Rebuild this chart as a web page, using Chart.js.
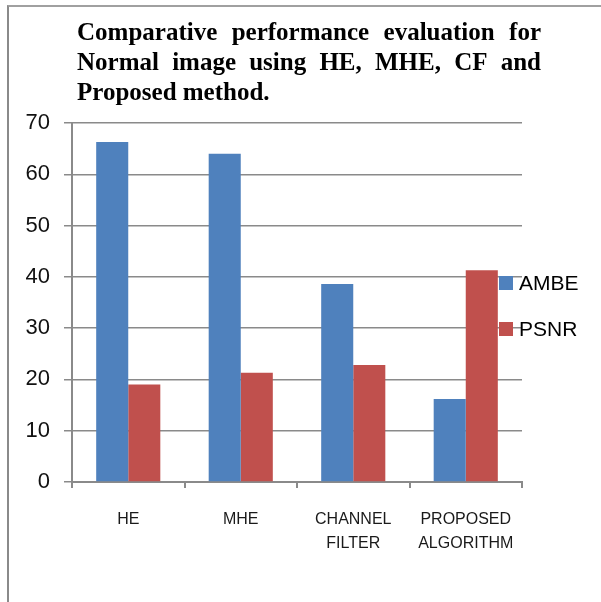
<!DOCTYPE html>
<html>
<head>
<meta charset="utf-8">
<script src="https://cdn.jsdelivr.net/npm/chart.js@4/dist/chart.umd.min.js"></script>
<style>
  html, body { margin: 0; padding: 0; background: #fff; }
  #wrap { position: relative; width: 601px; height: 602px; overflow: hidden; }
  #frame { position: absolute; left: 7px; top: 5px; width: 600px; height: 600px;
           border-left: 2px solid #8a8a8a; border-top: 2px solid #a0a0a0; box-sizing: border-box; }
  canvas { position: absolute; left: 0; top: 0; }
</style>
</head>
<body>
<div id="wrap">
  <div id="frame"></div>
  <canvas id="c" width="601" height="602"></canvas>
</div>
<script>
const titleLines = [
  "Comparative performance evaluation for",
  "Normal image using HE, MHE, CF and",
  "Proposed method."
];
const categories = [["HE"], ["MHE"], ["CHANNEL", "FILTER"], ["PROPOSED", "ALGORITHM"]];
const seriesNames = ["AMBE", "PSNR"];
const ambeValues = [66.3, 64.0, 38.6, 16.2];
const psnrValues = [19.0, 21.3, 22.8, 41.3];
const yTicks = [0, 10, 20, 30, 40, 50, 60, 70];
const colors = ["#4F81BD", "#C0504D"];

const titlePlugin = {
  id: 'justTitle',
  afterDraw(chart) {
    const ctx = chart.ctx;
    ctx.save();
    ctx.font = 'bold 25px "Liberation Serif", "Times New Roman", serif';
    ctx.fillStyle = '#000';
    ctx.textBaseline = 'alphabetic';
    const left = 77, right = 541;
    const baselines = [40, 70, 100];
    titleLines.forEach((line, i) => {
      const words = line.split(' ');
      if (i < titleLines.length - 1 && words.length > 1) {
        const total = words.reduce((s, w) => s + ctx.measureText(w).width, 0);
        const gap = (right - left - total) / (words.length - 1);
        let x = left;
        words.forEach(w => { ctx.fillText(w, x, baselines[i]); x += ctx.measureText(w).width + gap; });
      } else {
        ctx.fillText(line, left, baselines[i]);
      }
    });
    ctx.restore();
  }
};

const legendPlugin = {
  id: 'customLegend',
  afterDraw(chart) {
    const ctx = chart.ctx;
    ctx.save();
    ctx.font = '21px "Liberation Sans", Arial, sans-serif';
    ctx.textBaseline = 'middle';
    const ys = [283, 329];
    chart.data.datasets.forEach((ds, i) => {
      ctx.fillStyle = ds.backgroundColor;
      ctx.fillRect(499, ys[i] - 7, 14, 14);
      ctx.fillStyle = '#000';
      ctx.fillText(ds.label, 519, ys[i] + 1);
    });
    ctx.restore();
  }
};

new Chart(document.getElementById('c'), {
  type: 'bar',
  data: {
    labels: categories,
    datasets: [
      { label: seriesNames[0], data: ambeValues, backgroundColor: colors[0] },
      { label: seriesNames[1], data: psnrValues, backgroundColor: colors[1] }
    ]
  },
  options: {
    responsive: false,
    animation: false,
    devicePixelRatio: 1,
    layout: { padding: { top: 123, right: 79, bottom: 0, left: 0 } },
    plugins: { legend: { display: false }, title: { display: false }, tooltip: { enabled: false } },
    datasets: { bar: { categoryPercentage: 0.57, barPercentage: 1.0 } },
    scales: {
      x: {
        afterFit(s) { s.height = 120; },
        grid: { display: true, drawOnChartArea: false, drawTicks: true, tickLength: 6, color: '#8a8a8a', lineWidth: 2, offset: true },
        border: { display: true, color: '#8a8a8a', width: 2 },
        ticks: { color: '#1a1a1a', font: { family: '"Liberation Sans", Arial, sans-serif', size: 16, lineHeight: 1.5 }, padding: 20, maxRotation: 0, autoSkip: false }
      },
      y: {
        min: 0, max: 70,
        afterFit(s) { s.width = 72; },
        afterBuildTicks(s) { s.ticks = yTicks.map(v => ({ value: v })); },
        grid: { color: '#8a8a8a', lineWidth: 1.5, drawTicks: true, tickLength: 8 },
        border: { display: true, color: '#8a8a8a', width: 2 },
        ticks: { color: '#111', font: { family: '"Liberation Sans", Arial, sans-serif', size: 22 }, padding: 14 }
      }
    }
  },
  plugins: [titlePlugin, legendPlugin]
});
</script>
</body>
</html>
